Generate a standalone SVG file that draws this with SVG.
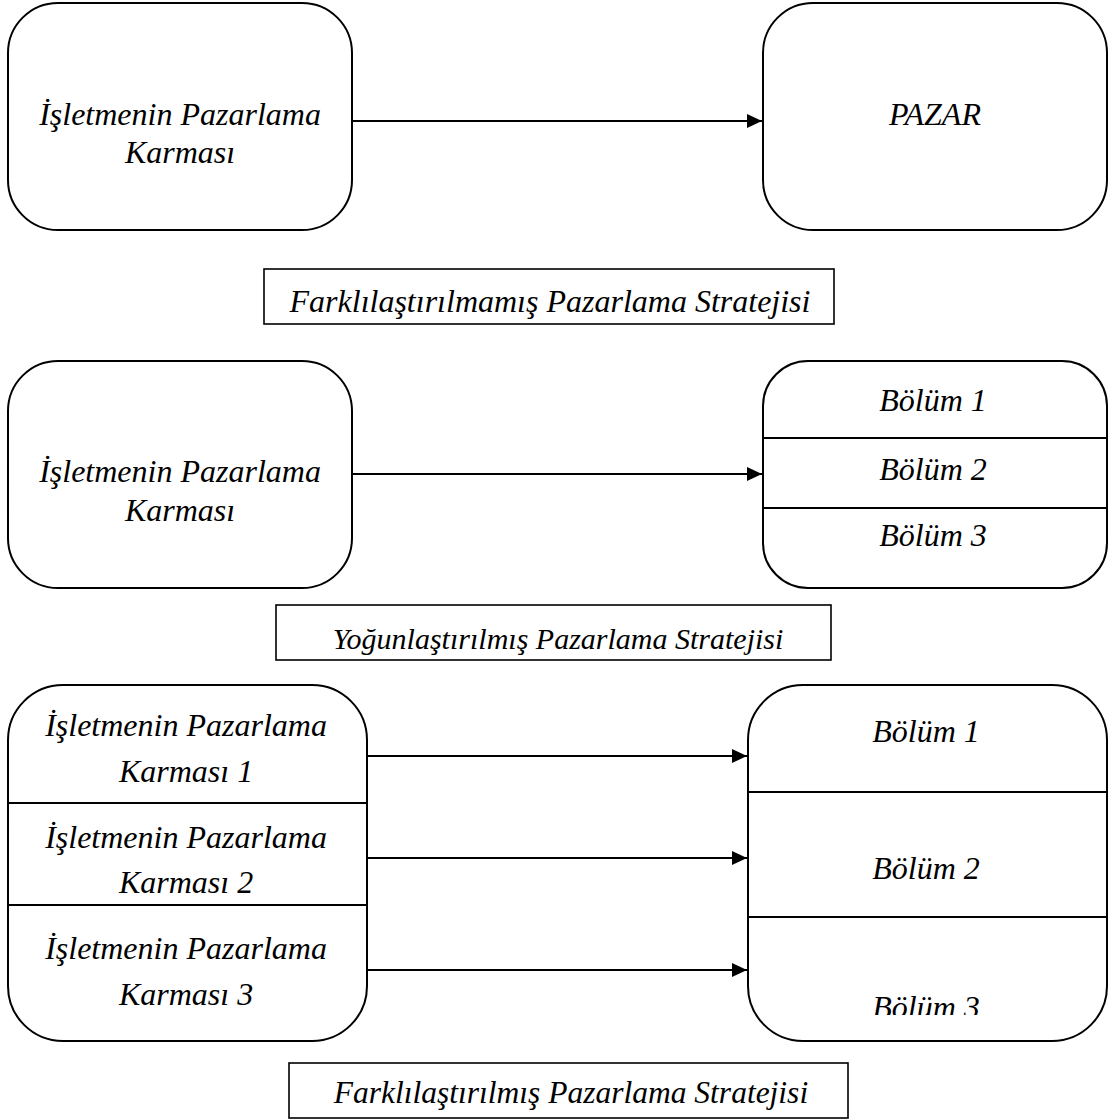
<svg xmlns="http://www.w3.org/2000/svg" width="1109" height="1120" viewBox="0 0 1109 1120">
  <style>
    .box { fill: #fff; stroke: #000; stroke-width: 2; }
    .div { stroke: #000; stroke-width: 2; }
    .lbl { fill: #fff; stroke: #000; stroke-width: 1.6; }
    .t { font-family: 'Liberation Serif', 'Times New Roman', serif; font-style: italic; font-size: 32px; fill: #000; text-anchor: middle; }
    .conn { stroke: #000; stroke-width: 2; fill: none; marker-end: url(#arrow); }
  </style>
  <defs>
    <marker id="arrow" markerWidth="7.5" markerHeight="7" refX="7.5" refY="3.5" orient="auto" markerUnits="strokeWidth">
      <path d="M0,0 L7.5,3.5 L0,7 Z" fill="#000"/>
    </marker>
    <clipPath id="segClip">
      <rect x="748" y="917" width="359" height="98"/>
    </clipPath>
  </defs>

  <rect width="1109" height="1120" fill="#fff"/>

  <!-- Undifferentiated strategy -->
  <g id="mix-1">
    <rect class="box" x="8" y="3" width="344" height="227" rx="50" ry="50"/>
    <text class="t" x="180" y="125">İşletmenin Pazarlama</text>
    <text class="t" x="180" y="163">Karması</text>
  </g>
  <g id="market">
    <rect class="box" x="763" y="3" width="344" height="227" rx="50" ry="50"/>
    <text class="t" x="935" y="125">PAZAR</text>
  </g>
  <g id="label-undiff">
    <rect class="lbl" x="264" y="269" width="570" height="55"/>
    <text class="t" x="550" y="312">Farklılaştırılmamış Pazarlama Stratejisi</text>
  </g>

  <!-- Concentrated strategy -->
  <g id="mix-2">
    <rect class="box" x="8" y="361" width="344" height="227" rx="50" ry="50"/>
    <text class="t" x="180" y="482">İşletmenin Pazarlama</text>
    <text class="t" x="180" y="521">Karması</text>
  </g>
  <g id="segments-2">
    <rect class="box" x="763" y="361" width="344" height="227" rx="45" ry="45"/>
    <line class="div" x1="763" y1="438" x2="1107" y2="438"/>
    <line class="div" x1="763" y1="508" x2="1107" y2="508"/>
    <text class="t" x="933" y="411">Bölüm 1</text>
    <text class="t" x="933" y="480">Bölüm 2</text>
    <text class="t" x="933" y="546">Bölüm 3</text>
  </g>
  <g id="label-conc">
    <rect class="lbl" x="276" y="605" width="555" height="55"/>
    <text class="t" x="558" y="649" style="font-size:30px">Yoğunlaştırılmış Pazarlama Stratejisi</text>
  </g>

  <!-- Differentiated strategy -->
  <g id="mix-3">
    <rect class="box" x="8" y="685" width="359" height="356" rx="55" ry="55"/>
    <line class="div" x1="8" y1="803" x2="367" y2="803"/>
    <line class="div" x1="8" y1="905" x2="367" y2="905"/>
    <text class="t" x="186" y="736">İşletmenin Pazarlama</text>
    <text class="t" x="186" y="782">Karması 1</text>
    <text class="t" x="186" y="848">İşletmenin Pazarlama</text>
    <text class="t" x="186" y="893">Karması 2</text>
    <text class="t" x="186" y="959">İşletmenin Pazarlama</text>
    <text class="t" x="186" y="1005">Karması 3</text>
  </g>
  <g id="segments-3">
    <rect class="box" x="748" y="685" width="359" height="356" rx="55" ry="55"/>
    <line class="div" x1="748" y1="792" x2="1107" y2="792"/>
    <line class="div" x1="748" y1="917" x2="1107" y2="917"/>
    <text class="t" x="926" y="742">Bölüm 1</text>
    <text class="t" x="926" y="879">Bölüm 2</text>
    <text class="t" x="926" y="1018" clip-path="url(#segClip)">Bölüm 3</text>
  </g>
  <g id="label-diff">
    <rect class="lbl" x="289" y="1063" width="559" height="55"/>
    <text class="t" x="571" y="1103" style="font-size:31.5px">Farklılaştırılmış Pazarlama Stratejisi</text>
  </g>

  <!-- Connectors -->
  <g id="connectors">
    <line class="conn" x1="352" y1="121" x2="762" y2="121"/>
    <line class="conn" x1="352" y1="474" x2="762" y2="474"/>
    <line class="conn" x1="367" y1="756" x2="747" y2="756"/>
    <line class="conn" x1="367" y1="858" x2="747" y2="858"/>
    <line class="conn" x1="367" y1="970" x2="747" y2="970"/>
  </g>
</svg>
